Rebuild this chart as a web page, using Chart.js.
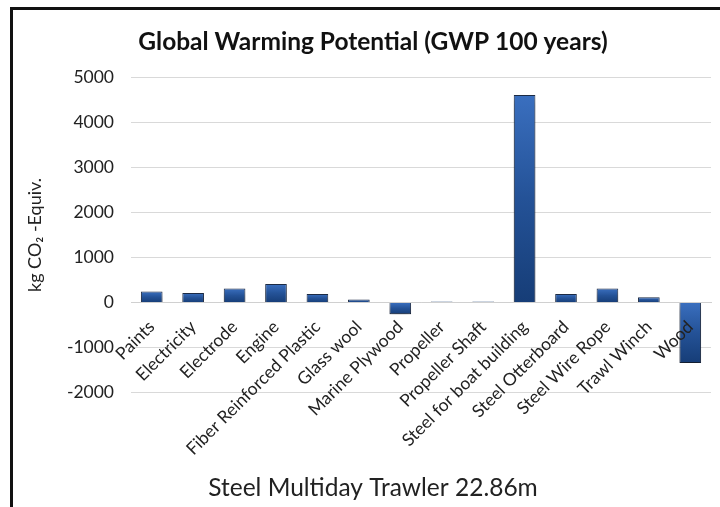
<!DOCTYPE html>
<html>
<head>
<meta charset="utf-8">
<script src="https://cdn.jsdelivr.net/npm/chart.js@4"></script>
<style>
  html, body { margin: 0; padding: 0; background: #fff; }
  #frame {
    position: absolute; left: 10px; top: 7px; width: 710px; height: 497px;
    border-top: 3px solid #111; border-left: 3px solid #111; border-bottom: 1px solid #e0e0e0;
  }
  #chart { position: absolute; left: 0; top: 0; }
</style>
</head>
<body>
<div id="frame"></div>
<canvas id="chart" width="720" height="507"></canvas>
<script>
const materials = ['Paints', 'Electricity', 'Electrode', 'Engine', 'Fiber Reinforced Plastic', 'Glass wool',
    'Marine Plywood', 'Propeller', 'Propeller Shaft', 'Steel for boat building', 'Steel Otterboard',
    'Steel Wire Rope', 'Trawl Winch', 'Wood'];
const gwp = [245, 210, 310, 410, 190, 65, -260, 25, 25, 4610, 190, 310, 120, -1340];
const yTicks = [5000, 4000, 3000, 2000, 1000, 0, -1000, -2000];

const font = "Lato, 'Open Sans', sans-serif";

// bevel-ish fill, lighter at the far end of each bar
function barFill(context) {
    const chart = context.chart;
    const y = chart.scales.y;
    if (!y || context.raw === undefined) return '#2a5ca3';
    const p0 = y.getPixelForValue(0);
    const p1 = y.getPixelForValue(context.raw);
    if (!isFinite(p0) || !isFinite(p1) || Math.abs(p1 - p0) < 1) return '#2a5ca3';
    const g = chart.ctx.createLinearGradient(0, Math.min(p0, p1), 0, Math.max(p0, p1));
    g.addColorStop(0, '#3a6fbf');
    g.addColorStop(0.5, '#245297');
    g.addColorStop(1, '#163d77');
    return g;
}

const barShadow = {
    id: 'barShadow',
    beforeDatasetsDraw(chart) {
        const ctx = chart.ctx;
        ctx.save();
        ctx.shadowColor = 'rgba(0,0,0,0.35)';
        ctx.shadowBlur = 6;
        ctx.shadowOffsetY = 5;
    },
    afterDatasetsDraw(chart) {
        chart.ctx.restore();
    }
};

new Chart(document.getElementById('chart'), {
    type: 'bar',
    data: {
        labels: materials,
        datasets: [{
            data: gwp,
            backgroundColor: barFill,
            borderColor: '#1c2b45',
            borderWidth: 1,
            categoryPercentage: 0.55,
            barPercentage: 0.95
        }]
    },
    options: {
        responsive: false,
        animation: false,
        layout: {
            padding: { left: 35, right: 9, top: 10, bottom: 4 }
        },
        plugins: {
            legend: { display: false },
            tooltip: { enabled: false },
            title: {
                display: true,
                text: 'Global Warming Potential (GWP 100 years)',
                color: '#111',
                font: { family: font, size: 24.5, weight: 'bold' },
                padding: { top: 17.5, bottom: 20.5 }
            },
            subtitle: {
                display: true,
                position: 'bottom',
                text: 'Steel Multiday Trawler 22.86m',
                color: '#222',
                font: { family: font, size: 24.5, weight: 'normal' },
                padding: { top: 81, bottom: 0 }
            }
        },
        scales: {
            x: {
                position: { y: 0 },
                grid: { display: false },
                border: { display: true, color: '#d0d0d0', width: 1 },
                ticks: {
                    z: 1,   // labels sit on top of the Wood bar, like the original
                    color: '#222',
                    font: { family: font, size: 17.5 },
                    minRotation: 45,
                    maxRotation: 45,
                    autoSkip: false,
                    padding: 6
                }
            },
            y: {
                min: -2000,
                max: 5000,
                afterBuildTicks: (scale) => {
                    scale.ticks = yTicks.map(v => ({ value: v }));
                },
                afterFit: (scale) => {
                    scale.width = 96;
                },
                grid: { color: '#d9d9d9', drawTicks: false },
                border: { display: false },
                ticks: {
                    color: '#222',
                    font: { family: font, size: 17.5 },
                    padding: 17,
                    callback: (v) => String(v)
                },
                title: {
                    display: true,
                    text: 'kg CO\u2082 -Equiv.',
                    color: '#222',
                    font: { family: font, size: 18 },
                    padding: { top: -11, bottom: 0 }
                }
            }
        }
    },
    plugins: [barShadow]
});
</script>
</body>
</html>
